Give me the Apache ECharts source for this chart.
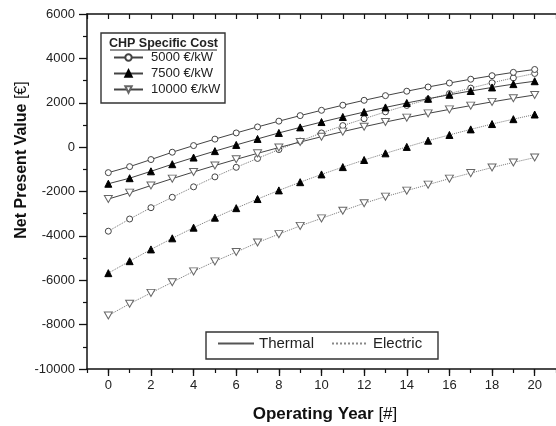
<!DOCTYPE html>
<html>
<head>
<meta charset="utf-8">
<script src="https://cdn.jsdelivr.net/npm/echarts@6/dist/echarts.min.js"></script>
<style>html,body{margin:0;padding:0;background:#fff}#c{width:556px;height:426px}</style>
</head>
<body>
<div id="c"></div>
<script>
const years = [0,1,2,3,4,5,6,7,8,9,10,11,12,13,14,15,16,17,18,19,20];
const thermal5000 = [-1150,-880,-560,-230,70,360,640,910,1170,1420,1660,1890,2110,2320,2520,2710,2890,3060,3220,3370,3500];
const thermal7500 = [-1650,-1400,-1090,-770,-470,-180,100,370,640,890,1130,1360,1580,1790,1990,2180,2360,2530,2690,2840,2970];
const thermal10000 = [-2340,-2050,-1730,-1420,-1120,-830,-550,-280,-20,230,470,700,920,1130,1330,1520,1700,1870,2040,2200,2350];
const electric5000 = [-3790,-3240,-2730,-2260,-1790,-1340,-910,-510,-110,270,640,970,1280,1590,1880,2150,2410,2660,2900,3120,3320];
const electric7500 = [-5680,-5140,-4610,-4110,-3630,-3180,-2750,-2340,-1950,-1580,-1230,-900,-580,-280,10,290,550,800,1040,1260,1470];
const electric10000 = [-7590,-7060,-6570,-6090,-5600,-5150,-4730,-4300,-3920,-3550,-3210,-2870,-2530,-2230,-1960,-1690,-1420,-1170,-920,-690,-470];
const xLabelValues = [0,2,4,6,8,10,12,14,16,18,20];
const costNames = ['5000 €/kW','7500 €/kW','10000 €/kW'];
const typeNames = ['Thermal','Electric'];

const FONT = 'Liberation Sans, Arial, sans-serif';
const pair = arr => arr.map((v,i)=>[years[i], v]);

const markerStyles = [
  {symbol:'circle', size:6, color:'#444', fill:'#fff'},
  {symbol:'triangle', size:7, color:'#000', fill:'#000'},
  {symbol:'path://M0,0 L10,0 L5,9 Z', size:[8,7], color:'#666', fill:'#fff'}
];
const thermalLine = {color:'#444', width:1, type:'solid'};
const electricLine = {color:'#777', width:1, type:'dotted'};

function dataSeries(name, arr, m, line){
  return {
    name: name, type:'line', data: pair(arr), xAxisIndex:0, yAxisIndex:0,
    symbol: m.symbol, symbolSize: m.size, showSymbol:true, showAllSymbol:true,
    lineStyle: line,
    itemStyle: {color: m.fill, borderColor: m.color, borderWidth: 1},
    emphasis:{disabled:true}, animation:false, z: 3
  };
}

const series = [
  dataSeries('e10000', electric10000, markerStyles[2], electricLine),
  dataSeries('e7500', electric7500, markerStyles[1], electricLine),
  dataSeries('e5000', electric5000, markerStyles[0], electricLine),
  dataSeries('t10000', thermal10000, markerStyles[2], thermalLine),
  dataSeries('t7500', thermal7500, markerStyles[1], thermalLine),
  dataSeries('t5000', thermal5000, markerStyles[0], thermalLine)
];
costNames.forEach((n,i)=>{
  const m = markerStyles[i];
  series.push({name:n, type:'line', data:[], symbol:m.symbol, symbolSize:m.size,
    lineStyle:{color:'#444', width:1}, itemStyle:{color:m.fill, borderColor:m.color, borderWidth:1}});
});
series.push({name:typeNames[0], type:'line', data:[], symbol:'none', lineStyle:{color:'#555', width:1.2, type:'solid'}, itemStyle:{color:'#555'}});
series.push({name:typeNames[1], type:'line', data:[], symbol:'none', lineStyle:{color:'#888', width:1.2, type:'dotted'}, itemStyle:{color:'#888'}});

const chart = echarts.init(document.getElementById('c'), null, {renderer:'canvas'});
chart.setOption({
  animation:false,
  backgroundColor:'#fff',
  grid:{left:87, right:-12, top:14, bottom:57, containLabel:false},
  xAxis:[
    {type:'value', position:'bottom', min:-1, max:21,
     axisLine:{show:true, onZero:false, lineStyle:{color:'#111', width:1.5}},
     axisTick:{show:true, customValues:xLabelValues, length:7, lineStyle:{color:'#111', width:1.3}},
     axisLabel:{show:true, customValues:xLabelValues, margin:10, fontSize:13, fontFamily:FONT, color:'#222'},
     splitLine:{show:false}},
    {type:'value', position:'bottom', min:-1, max:21, interval:1,
     axisLine:{show:false, onZero:false},
     axisTick:{show:true, length:4, lineStyle:{color:'#111', width:1.2}},
     axisLabel:{show:false}, splitLine:{show:false}},
    {type:'value', position:'top', min:-1, max:21, interval:1,
     axisLine:{show:true, onZero:false, lineStyle:{color:'#111', width:1.5}},
     axisTick:{show:true, inside:true, length:5, lineStyle:{color:'#111', width:1.2}},
     axisLabel:{show:false}, splitLine:{show:false}}
  ],
  yAxis:[
    {type:'value', min:-10000, max:6000, interval:2000,
     axisLine:{show:true, onZero:false, lineStyle:{color:'#111', width:1.5}},
     axisTick:{show:true, length:8, lineStyle:{color:'#111', width:1.3}},
     minorTick:{show:true, splitNumber:2, length:4, lineStyle:{color:'#111', width:1.2}},
     axisLabel:{margin:12, fontSize:13, fontFamily:FONT, color:'#222', formatter: v => String(v)},
     splitLine:{show:false}}
  ],
  legend:[
    {data:costNames, orient:'vertical', left:113, top:51, padding:0, itemWidth:29, itemHeight:8, itemGap:3,
     textStyle:{fontSize:13, fontFamily:FONT, color:'#222', padding:[0,0,0,3]}, selectedMode:false},
    {data:typeNames, orient:'horizontal', left:217, top:336, padding:0, itemWidth:36, itemHeight:10, itemGap:17,
     itemStyle:{opacity:0},
     textStyle:{fontSize:15, fontFamily:FONT, color:'#222'}, selectedMode:false}
  ],
  graphic:[
    {type:'rect', shape:{x:101, y:33, width:124, height:70}, style:{fill:'none', stroke:'#333', lineWidth:1.4}, z:10},
    {type:'text', x:163.5, y:44, style:{text:'CHP Specific Cost', font:'bold 12.5px '+FONT, fill:'#222', align:'center', verticalAlign:'middle'}, z:10},
    {type:'line', shape:{x1:110, y1:50, x2:217, y2:50}, style:{stroke:'#222', lineWidth:1}, z:10},
    {type:'rect', shape:{x:206, y:332, width:232, height:27}, style:{fill:'#fff', stroke:'#333', lineWidth:1.4}, z:1},
    {type:'text', x:22, y:160, rotation:Math.PI/2,
     style:{text:'{b|Net Present Value }{n|[€]}', align:'center', verticalAlign:'middle',
       rich:{b:{font:'bold 16px '+FONT, fill:'#111'}, n:{font:'16px '+FONT, fill:'#111'}}}},
    {type:'text', x:325, y:414,
     style:{text:'{b|Operating Year }{n|[#]}', align:'center', verticalAlign:'middle',
       rich:{b:{font:'bold 17px '+FONT, fill:'#111'}, n:{font:'17px '+FONT, fill:'#111'}}}}
  ],
  series: series
});
</script>
</body>
</html>
